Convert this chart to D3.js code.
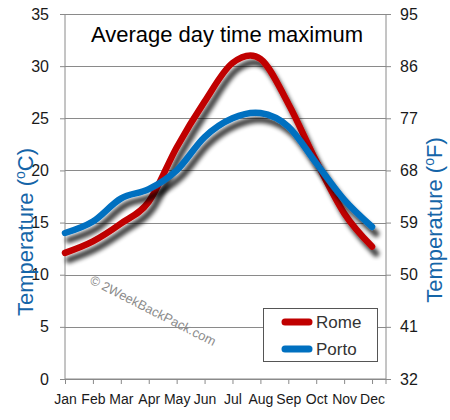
<!DOCTYPE html>
<html>
<head>
<meta charset="utf-8">
<script src="https://cdn.jsdelivr.net/npm/d3@7/dist/d3.min.js"></script>
<style>
  html, body { margin: 0; padding: 0; background: #fff; }
  svg { display: block; font-family: "Liberation Sans", Arial, sans-serif; }
</style>
</head>
<body>
<svg id="chart" width="450" height="420"></svg>
<script>
const months = ["Jan","Feb","Mar","Apr","May","Jun","Jul","Aug","Sep","Oct","Nov","Dec"];
const rome  = [12.1, 13.2, 14.9, 17.0, 22.2, 26.6, 30.3, 30.7, 26.4, 20.9, 15.9, 12.7];
const porto = [14.0, 15.1, 17.3, 18.2, 20.0, 23.2, 25.0, 25.5, 24.2, 20.7, 17.2, 14.6];
const celsiusTicks = [0, 5, 10, 15, 20, 25, 30, 35];
const fahrenheitLabels = ["32", "41", "50", "59", "68", "77", "86", "95"];
const seriesNames = ["Rome", "Porto"];
const seriesColors = ["#c00000", "#0070c0"];

const svg = d3.select("#chart");
const pLeft = 65, pRight = 386, pTop = 14, pBottom = 379;

const x = d3.scaleLinear().domain([0, 11.5]).range([pLeft, pRight]);
const y = d3.scaleLinear().domain([0, 35]).range([pBottom, pTop]);

const defs = svg.append("defs");
const f = defs.append("filter").attr("id", "shadow")
  .attr("x", "-10%").attr("y", "-10%").attr("width", "130%").attr("height", "130%");
f.append("feGaussianBlur").attr("in", "SourceAlpha").attr("stdDeviation", 2.2).attr("result", "blur");
f.append("feOffset").attr("in", "blur").attr("dx", 4).attr("dy", 7).attr("result", "off");
f.append("feComponentTransfer").attr("in", "off").attr("result", "offa")
  .append("feFuncA").attr("type", "linear").attr("slope", 0.75);
const m = f.append("feMerge");
m.append("feMergeNode").attr("in", "offa");
m.append("feMergeNode").attr("in", "SourceGraphic");

// gridlines
svg.append("g").selectAll("line").data(celsiusTicks).join("line")
  .attr("x1", pLeft).attr("x2", pRight)
  .attr("y1", d => Math.round(y(d)) + 0.5).attr("y2", d => Math.round(y(d)) + 0.5)
  .attr("stroke", "#8a8a8a").attr("stroke-width", 1);

// left axis
const leftAxis = d3.axisLeft(y).tickValues(celsiusTicks).tickSize(5).tickPadding(11);
const gl = svg.append("g").attr("transform", `translate(${pLeft},0)`).call(leftAxis);
gl.select(".domain").attr("stroke", "#8a8a8a").attr("d", `M0,${pTop}V${pBottom}`);
gl.selectAll(".tick line").attr("stroke", "#8a8a8a");
gl.selectAll("text").attr("fill", "#1a1a1a").style("font-size", "16px").style("font-family", "Liberation Sans, Arial, sans-serif");

// right axis
const rightAxis = d3.axisRight(y).tickValues(celsiusTicks).tickSize(5).tickPadding(9)
  .tickFormat((d, i) => fahrenheitLabels[i]);
const gr = svg.append("g").attr("transform", `translate(${pRight},0)`).call(rightAxis);
gr.select(".domain").attr("stroke", "#8a8a8a").attr("d", `M0,${pTop}V${pBottom}`);
gr.selectAll(".tick line").attr("stroke", "#8a8a8a");
gr.selectAll("text").attr("fill", "#1a1a1a").style("font-size", "16px").style("font-family", "Liberation Sans, Arial, sans-serif");

// bottom axis
const xb = d3.axisBottom(x).tickValues(d3.range(12)).tickSize(5).tickPadding(10)
  .tickFormat(i => months[i]);
const gb = svg.append("g").attr("transform", `translate(0,${pBottom})`).call(xb);
gb.select(".domain").attr("stroke", "#8a8a8a").attr("d", `M${pLeft},0H${pRight}`);
gb.selectAll(".tick line").attr("stroke", "#8a8a8a");
gb.selectAll("text").attr("fill", "#1a1a1a").style("font-size", "14px").style("font-family", "Liberation Sans, Arial, sans-serif");
gb.append("line").attr("x1", pRight).attr("x2", pRight).attr("y1", 0).attr("y2", 5).attr("stroke", "#8a8a8a");

// title
svg.append("text").attr("x", 227).attr("y", 42).attr("text-anchor", "middle")
  .style("font-size", "22px").attr("fill", "#000").text("Average day time maximum");

// watermark
svg.append("text").attr("transform", "translate(89,283) rotate(27)")
  .style("font-size", "13px").attr("fill", "#8c8c8c").text("© 2WeekBackPack.com");

// axis titles
function axisTitle(tx, ty, unit) {
  const t = svg.append("text").attr("transform", `translate(${tx},${ty}) rotate(-90)`)
    .attr("text-anchor", "middle").style("font-size", "22px").attr("fill", "#1565a8");
  t.append("tspan").text("Temperature (");
  t.append("tspan").attr("dy", -8).style("font-size", "14px").text("o");
  t.append("tspan").attr("dy", 8).text(unit + ")");
}
axisTitle(33, 232, "C");
axisTitle(442, 220, "F");

// lines
const line = d3.line().x((d, i) => x(i)).y(d => y(d)).curve(d3.curveCardinal.tension(0));
[rome, porto].forEach((s, k) => {
  svg.append("path").datum(s).attr("d", line)
    .attr("fill", "none").attr("stroke", seriesColors[k]).attr("stroke-width", 6.5)
    .attr("stroke-linecap", "round").attr("stroke-linejoin", "round")
    .attr("filter", "url(#shadow)");
});

// legend
const lg = svg.append("g");
lg.append("rect").attr("x", 263.5).attr("y", 308.5).attr("width", 114).attr("height", 53)
  .attr("fill", "#fff").attr("stroke", "#555").attr("stroke-width", 1);
seriesNames.forEach((n, k) => {
  const yy = 322 + k * 27;
  lg.append("line").attr("x1", 285).attr("x2", 309).attr("y1", yy).attr("y2", yy)
    .attr("stroke", seriesColors[k]).attr("stroke-width", 7).attr("stroke-linecap", "round");
  lg.append("text").attr("x", 316).attr("y", yy + 6).style("font-size", "17px")
    .attr("fill", "#333").text(n);
});
</script>
</body>
</html>
